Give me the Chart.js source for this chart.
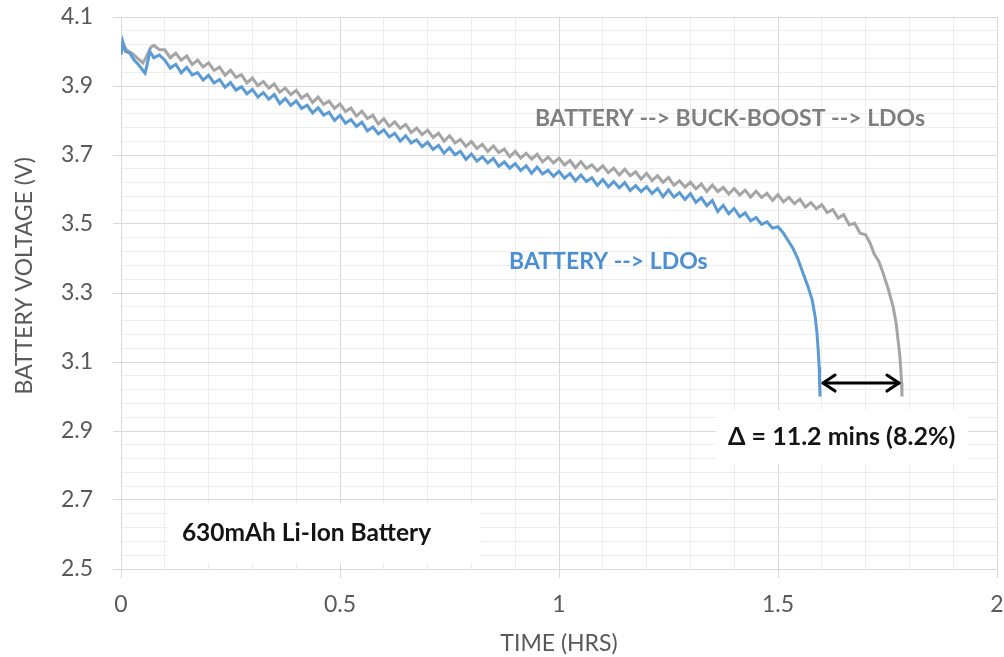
<!DOCTYPE html>
<html>
<head>
<meta charset="utf-8">
<script src="https://cdn.jsdelivr.net/npm/chart.js@4.4.0/dist/chart.umd.min.js"></script>
<style>
html,body{margin:0;padding:0;background:#fff;}
#wrap{width:1004px;height:657px;}
</style>
</head>
<body>
<div id="wrap"><canvas id="c" width="1004" height="657"></canvas></div>
<script>
// ---- DATA ----
const blueT = [0,0.004,0.01,0.02,0.03,0.04,0.05,0.055,0.06,0.066,0.075,0.0875,
0.1,0.1125,0.125,0.1375,0.15,0.1625,0.175,0.1875,
0.2,0.2125,0.225,0.2375,0.25,0.2625,0.275,0.2875,
0.3,0.3125,0.325,0.3375,0.35,0.3625,0.375,0.3875,
0.4,0.4125,0.425,0.4375,0.45,0.4625,0.475,0.4875,
0.5,0.5125,0.525,0.5375,0.55,0.5625,0.575,0.5875,
0.6,0.6125,0.625,0.6375,0.65,0.6625,0.675,0.6875,
0.7,0.7125,0.725,0.7375,0.75,0.7625,0.775,0.7875,
0.8,0.8125,0.825,0.8375,0.85,0.8625,0.875,0.8875,
0.9,0.9125,0.925,0.9375,0.95,0.9625,0.975,0.9875,
1.0,1.0125,1.025,1.0375,1.05,1.0625,1.075,1.0875,
1.1,1.1125,1.125,1.1375,1.15,1.1625,1.175,1.1875,
1.2,1.2125,1.225,1.2375,1.25,1.2625,1.275,1.2875,
1.3,1.3125,1.325,1.3375,1.35,1.3625,1.375,1.3875,
1.4,1.4125,1.425,1.4375,1.45,1.4625,1.475,1.4875,
1.5,1.512,1.523,1.534,1.545,1.557,1.568,1.578,1.585,1.589,1.592,1.594,1.595,1.596];
const blueV = [3.990,4.028,4.000,3.995,3.975,3.962,3.945,3.937,3.965,4.000,3.982,3.990,
3.975,3.952,3.963,3.938,3.954,3.932,3.939,3.917,
3.931,3.909,3.919,3.896,3.910,3.888,3.898,3.877,
3.890,3.868,3.881,3.862,3.875,3.849,3.864,3.844,
3.857,3.835,3.844,3.822,3.837,3.816,3.824,3.800,
3.815,3.792,3.803,3.783,3.795,3.770,3.781,3.761,
3.773,3.752,3.763,3.740,3.756,3.735,3.744,3.724,
3.737,3.716,3.728,3.705,3.721,3.701,3.711,3.687,
3.703,3.682,3.695,3.677,3.690,3.667,3.680,3.662,
3.675,3.655,3.669,3.647,3.665,3.645,3.656,3.638,
3.653,3.633,3.646,3.625,3.642,3.623,3.634,3.612,
3.629,3.608,3.623,3.605,3.620,3.597,3.611,3.594,
3.608,3.588,3.603,3.579,3.599,3.578,3.591,3.571,
3.588,3.563,3.576,3.553,3.568,3.536,3.554,3.530,
3.545,3.521,3.532,3.509,3.519,3.499,3.506,3.488,
3.492,3.474,3.452,3.430,3.400,3.358,3.320,3.280,3.230,3.184,3.130,3.085,3.040,3.000];

const grayT = [0,0.004,0.012,0.025,0.04,0.05,0.058,0.068,0.075,0.0875,
0.1,0.1125,0.125,0.1375,0.15,0.1625,0.175,0.1875,
0.2,0.2125,0.225,0.2375,0.25,0.2625,0.275,0.2875,
0.3,0.3125,0.325,0.3375,0.35,0.3625,0.375,0.3875,
0.4,0.4125,0.425,0.4375,0.45,0.4625,0.475,0.4875,
0.5,0.5125,0.525,0.5375,0.55,0.5625,0.575,0.5875,
0.6,0.6125,0.625,0.6375,0.65,0.6625,0.675,0.6875,
0.7,0.7125,0.725,0.7375,0.75,0.7625,0.775,0.7875,
0.8,0.8125,0.825,0.8375,0.85,0.8625,0.875,0.8875,
0.9,0.9125,0.925,0.9375,0.95,0.9625,0.975,0.9875,
1.0,1.0125,1.025,1.0375,1.05,1.0625,1.075,1.0875,
1.1,1.1125,1.125,1.1375,1.15,1.1625,1.175,1.1875,
1.2,1.2125,1.225,1.2375,1.25,1.2625,1.275,1.2875,
1.3,1.3125,1.325,1.3375,1.35,1.3625,1.375,1.3875,
1.4,1.4125,1.425,1.4375,1.45,1.4625,1.475,1.4875,
1.5,1.5125,1.525,1.5375,1.55,1.5625,1.575,1.5875,
1.6,1.6125,1.625,1.6375,1.65,1.6625,1.675,1.6875,
1.7,1.71,1.72,1.73,1.74,1.752,1.763,1.770,1.774,1.778,1.780,1.782,1.783];
const grayV = [4.005,4.025,4.005,3.995,3.978,3.967,3.985,4.012,4.018,4.005,
4.005,3.982,3.995,3.975,3.987,3.962,3.975,3.955,
3.967,3.945,3.955,3.931,3.946,3.925,3.933,3.909,
3.923,3.901,3.913,3.894,3.906,3.882,3.894,3.875,
3.887,3.865,3.876,3.852,3.868,3.847,3.856,3.835,
3.848,3.826,3.836,3.813,3.827,3.806,3.815,3.790,
3.805,3.783,3.796,3.777,3.789,3.765,3.778,3.759,
3.772,3.751,3.763,3.740,3.756,3.735,3.745,3.725,
3.739,3.719,3.731,3.710,3.726,3.707,3.717,3.695,
3.711,3.691,3.705,3.688,3.702,3.680,3.694,3.677,
3.691,3.671,3.684,3.663,3.681,3.661,3.672,3.654,
3.669,3.649,3.662,3.642,3.659,3.640,3.651,3.630,
3.647,3.626,3.640,3.621,3.635,3.612,3.625,3.607,
3.621,3.602,3.616,3.594,3.613,3.594,3.606,3.587,
3.603,3.584,3.598,3.578,3.595,3.577,3.589,3.568,
3.585,3.564,3.577,3.559,3.572,3.549,3.562,3.544,
3.556,3.533,3.542,3.517,3.527,3.498,3.502,3.473,
3.469,3.445,3.412,3.392,3.358,3.310,3.259,3.210,3.164,3.120,3.085,3.040,3.000];

const yMin = 2.5, yMax = 4.1, yMajor = 0.2, yMinor = 0.04;
const xMin = 0, xMax = 2, xMajor = 0.5, xMinor = 0.1;
const xTickLabels = {0:'0',0.5:'0.5',1:'1',1.5:'1.5',2:'2'};

const seriesNames = ['BATTERY --> LDOs', 'BATTERY --> BUCK-BOOST --> LDOs'];
const labelTexts = ['BATTERY --> BUCK-BOOST --> LDOs','BATTERY --> LDOs','Δ = 11.2 mins (8.2%)','630mAh Li-Ion Battery'];
const axisTitles = ['TIME (HRS)','BATTERY VOLTAGE (V)'];

// ---- CHART ----
const BLUE = '#5B9BD5', GRAY = '#A5A5A5';
const MAJOR = '#d9d9d9', MINOR = '#ededed';
const FONT = 'Lato, "Open Sans", sans-serif';
const TXT = '#595959';

function pts(t, v){ return t.map((x,i)=>({x:x, y:v[i]})); }
function isMajorY(val){ return Math.round((val - yMin)/yMinor) % Math.round(yMajor/yMinor) === 0; }
function isMajorX(val){ return Math.round((val - xMin)/xMinor) % Math.round(xMajor/xMinor) === 0; }

const annot = {
  id:'annot',
  beforeDatasetsDraw(chart){
    const ctx = chart.ctx, xs = chart.scales.x, ys = chart.scales.y;
    ctx.save();
    ctx.fillStyle = '#ffffff';
    const boxes = [[1.358,1.934,2.961,2.801],[0.107,0.820,2.691,2.517]];
    boxes.forEach(b=>{
      const x0 = xs.getPixelForValue(b[0]), x1 = xs.getPixelForValue(b[1]);
      const y0 = ys.getPixelForValue(b[2]), y1 = ys.getPixelForValue(b[3]);
      ctx.fillRect(x0,y0,x1-x0,y1-y0);
    });
    ctx.restore();
  },
  afterDatasetsDraw(chart){
    const ctx = chart.ctx, xs = chart.scales.x, ys = chart.scales.y, ca = chart.chartArea;
    ctx.save();
    ctx.textBaseline = 'middle';
    ctx.textAlign = 'left';
    const labs = [
      [labelTexts[0], 0.945, 3.807, '#7f7f7f', 23],
      [labelTexts[1], 0.886, 3.390, '#4A8FD3', 23],
      [labelTexts[2], 1.386, 2.883, '#141414', 25],
      [labelTexts[3], 0.139, 2.604, '#141414', 24.5]
    ];
    labs.forEach(l=>{
      ctx.font = 'bold ' + l[4] + 'px ' + FONT;
      ctx.fillStyle = l[3];
      ctx.fillText(l[0], xs.getPixelForValue(l[1]), ys.getPixelForValue(l[2]));
    });
    // double arrow between end of blue and end of gray
    const xa = xs.getPixelForValue(blueT[blueT.length-1]) + 3;
    const xb = xs.getPixelForValue(grayT[grayT.length-1]) - 3;
    const ya = ys.getPixelForValue(3.039);
    ctx.strokeStyle = '#000'; ctx.lineWidth = 3; ctx.lineCap='round'; ctx.lineJoin='round';
    ctx.beginPath(); ctx.moveTo(xa,ya); ctx.lineTo(xb,ya); ctx.stroke();
    ctx.beginPath(); ctx.moveTo(xa+12,ya-8); ctx.lineTo(xa,ya); ctx.lineTo(xa+12,ya+8); ctx.stroke();
    ctx.beginPath(); ctx.moveTo(xb-12,ya-8); ctx.lineTo(xb,ya); ctx.lineTo(xb-12,ya+8); ctx.stroke();
    // axis titles
    ctx.fillStyle = TXT;
    ctx.font = '23px ' + FONT;
    ctx.textAlign = 'center';
    ctx.fillText(axisTitles[0], (ca.left+ca.right)/2, 644);
    ctx.translate(25, ys.getPixelForValue(3.35));
    ctx.rotate(-Math.PI/2);
    ctx.fillText(axisTitles[1], 0, 0);
    ctx.restore();
  }
};

new Chart(document.getElementById('c'), {
  type:'line',
  data:{
    datasets:[
      {label:seriesNames[0], data:pts(blueT,blueV), borderColor:BLUE, borderWidth:3, pointRadius:0, tension:0, fill:false},
      {label:seriesNames[1], data:pts(grayT,grayV), borderColor:GRAY, borderWidth:3, pointRadius:0, tension:0, fill:false}
    ]
  },
  options:{
    responsive:false, animation:false, devicePixelRatio:1,
    layout:{padding:{left:0, top:17, right:7, bottom:0}},
    plugins:{legend:{display:false}, tooltip:{enabled:false}},
    scales:{
      x:{
        type:'linear', min:xMin, max:xMax,
        afterFit(s){ s.height = 657 - 569; s.paddingLeft = 0; s.paddingRight = 0; },
        border:{color:MAJOR},
        grid:{
          color:(c)=> isMajorX(c.tick.value) ? MAJOR : MINOR,
          tickColor:(c)=> isMajorX(c.tick.value) ? MAJOR : 'rgba(0,0,0,0)',
          tickLength:9, lineWidth:1
        },
        ticks:{stepSize:xMinor, autoSkip:false, maxRotation:0, maxTicksLimit:100, padding:13,
          color:TXT, font:{family:FONT, size:23},
          callback:(v)=>{ const k = Math.round(v*10)/10; return isMajorX(v) ? (xTickLabels[k] ?? '') : ''; }},
        title:{display:false}
      },
      y:{
        type:'linear', min:yMin, max:yMax,
        afterFit(s){ s.width = 121; s.paddingTop = 0; s.paddingBottom = 0; },
        border:{color:MAJOR},
        grid:{
          color:(c)=> isMajorY(c.tick.value) ? MAJOR : MINOR,
          tickColor:(c)=> isMajorY(c.tick.value) ? MAJOR : 'rgba(0,0,0,0)',
          tickLength:8, lineWidth:1
        },
        ticks:{stepSize:yMinor, autoSkip:false, maxTicksLimit:100, padding:20,
          color:TXT, font:{family:FONT, size:23},
          callback:(v)=> isMajorY(v) ? v.toFixed(1) : ''},
        title:{display:false}
      }
    }
  },
  plugins:[annot]
});
</script>
</body>
</html>
